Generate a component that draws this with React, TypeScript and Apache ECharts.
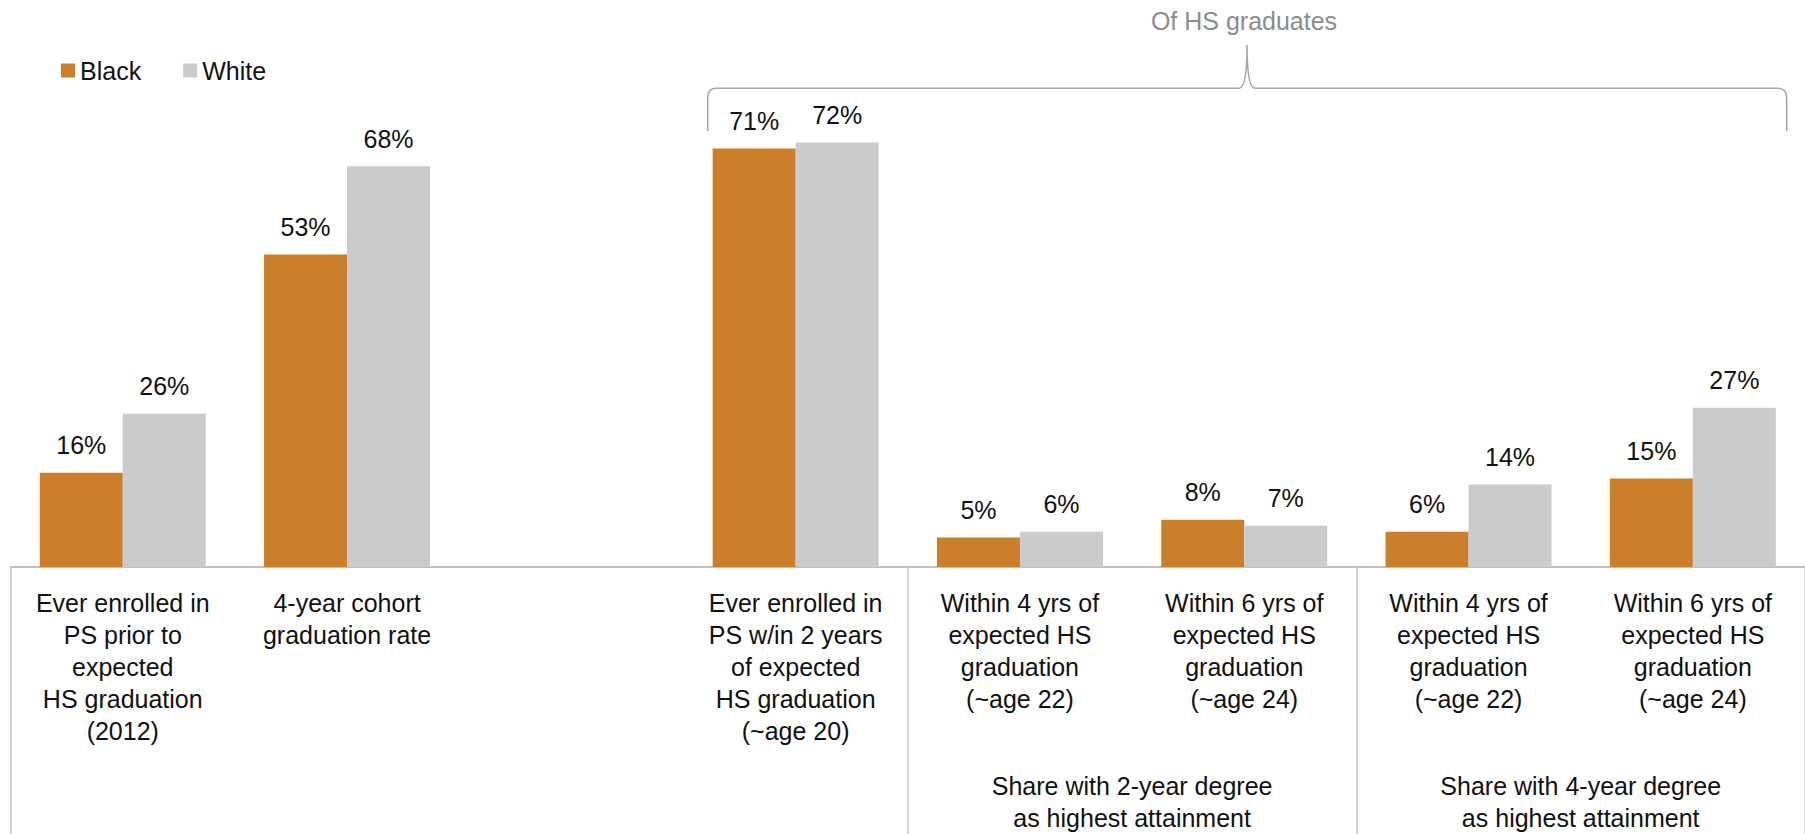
import React, { useEffect, useRef } from "react";
import * as echarts from "echarts";

const categoryLabels = [
  "Ever enrolled in\nPS prior to\nexpected\nHS graduation\n(2012)",
  "4-year cohort\ngraduation rate",
  "",
  "Ever enrolled in\nPS w/in 2 years\nof expected\nHS graduation\n(~age 20)",
  "Within 4 yrs of\nexpected HS\ngraduation\n(~age 22)",
  "Within 6 yrs of\nexpected HS\ngraduation\n(~age 24)",
  "Within 4 yrs of\nexpected HS\ngraduation\n(~age 22)",
  "Within 6 yrs of\nexpected HS\ngraduation\n(~age 24)",
];
const categoryKeys = ["c0", "c1", "c2", "c3", "c4", "c5", "c6", "c7"];
const groupLabels = [
  "",
  "",
  "Share with 2-year degree\nas highest attainment",
  "Share with 4-year degree\nas highest attainment",
];
const groupKeys = ["g0", "g1", "g2", "g3"];
const blackValues = [16, 53, null, 71, 5, 8, 6, 15];
const whiteValues = [26, 68, null, 72, 6, 7, 14, 27];
const seriesNames = ["Black", "White"];
const headerText = "Of HS graduates";

const ORANGE = "#cc7f2a";
const GRAY = "#cbcbcb";
const FONT = "'Liberation Sans', Arial, sans-serif";

const bracketD =
  "M707.7 131 L707.7 98 Q707.7 88.3 716 88.3 L1239 88.3 Q1247 88.3 1247 45 Q1247 88.3 1255 88.3 L1778 88.3 Q1786.7 88.3 1786.7 98 L1786.7 131";

let registered = false;

export default function App() {
  const ref = useRef<HTMLDivElement>(null);

  useEffect(() => {
    if (!ref.current) return;
    if (!registered) {
      echarts.graphic.registerShape("bracket", echarts.graphic.extendPath(bracketD, {}));
      registered = true;
    }
    const chart = echarts.init(ref.current, undefined, { renderer: "svg" });
    const labelStyle = {
      show: true,
      position: "top",
      distance: 15,
      fontSize: 25,
      fontFamily: FONT,
      color: "#111",
      formatter: (p: any) => (p.value == null ? "" : `${Math.round(p.value)}%`),
    };
    chart.setOption({
      animation: false,
      legend: {
        data: seriesNames,
        left: 56,
        top: 53,
        itemWidth: 14,
        itemHeight: 14,
        itemGap: 42,
        icon: "rect",
        textStyle: { fontSize: 25, fontFamily: FONT, color: "#111" },
      },
      grid: { left: 10.6, top: 95.4, width: 1797.8, bottom: 265, containLabel: false },
      xAxis: [
        {
          type: "category",
          data: categoryKeys,
          axisLine: { show: true, lineStyle: { color: "#bfbfbf", width: 2 } },
          axisTick: { show: false },
          axisLabel: {
            interval: 0,
            margin: 20,
            fontSize: 25,
            lineHeight: 32,
            fontFamily: FONT,
            color: "#111",
            formatter: (_v: string, i: number) => categoryLabels[i],
          },
        },
        {
          type: "category",
          data: groupKeys,
          position: "bottom",
          offset: 0,
          axisLine: { show: false },
          axisTick: {
            show: true,
            interval: (i: number) => i === 0 || i === 2 || i === 3,
            length: 270,
            lineStyle: { color: "#c8c8c8", width: 1.5 },
          },
          axisLabel: {
            interval: 0,
            margin: 203,
            fontSize: 25,
            lineHeight: 32,
            fontFamily: FONT,
            color: "#111",
            formatter: (_v: string, i: number) => groupLabels[i],
          },
        },
      ],
      yAxis: { type: "value", min: 0, max: 80, show: false },
      series: [
        {
          name: seriesNames[0],
          type: "bar",
          xAxisIndex: 0,
          data: blackValues,
          barWidth: 83,
          barGap: "0%",
          itemStyle: { color: ORANGE },
          label: labelStyle,
        },
        {
          name: seriesNames[1],
          type: "bar",
          xAxisIndex: 0,
          data: whiteValues,
          barWidth: 83,
          barGap: "0%",
          itemStyle: { color: GRAY },
          label: labelStyle,
        },
      ],
      graphic: [
        {
          type: "bracket",
          x: 0,
          y: 0,
          scaleX: 1,
          scaleY: 1,
          silent: true,
          style: { fill: "none", stroke: "#a6a6a6", lineWidth: 1.6 },
        },
        {
          type: "text",
          x: 1244,
          y: 21,
          silent: true,
          style: {
            text: headerText,
            fontSize: 25,
            fontFamily: FONT,
            fill: "#8c8c8c",
            textAlign: "center",
            textVerticalAlign: "middle",
            align: "center",
            verticalAlign: "middle",
          },
        },
      ],
    });
    return () => chart.dispose();
  }, []);

  return (
    <div
      ref={ref}
      style={{ position: "absolute", left: 0, top: 0, width: 1805, height: 834, background: "#fff" }}
    />
  );
}
